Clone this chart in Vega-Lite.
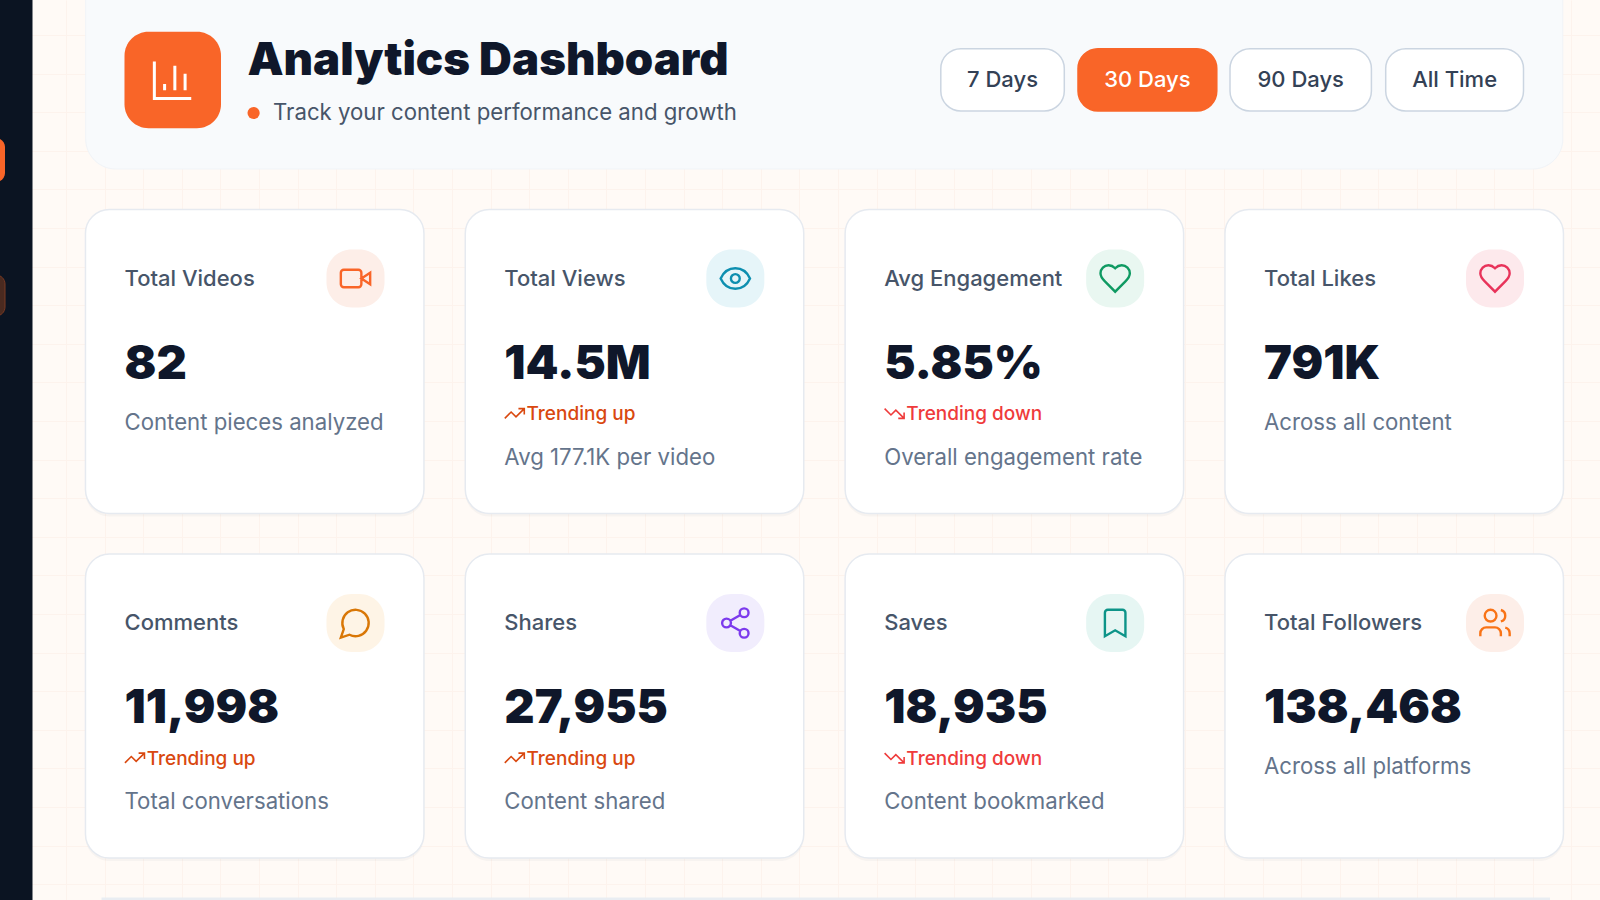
{
  "$schema": "https://vega.github.io/schema/vega-lite/v6.json",
  "width": 1600,
  "height": 900,
  "autosize": {"type": "fit", "contains": "padding"},
  "padding": 0,
  "background": "#fffaf6",
  "config": {"view": {"stroke": null}},
  "datasets": {
    "backdrop": [{"gx": 1, "gy": 1}],
    "frame": [
      {"part": "sidebar", "x": 2, "x2": 4, "y": 2, "y2": 18},
      {"part": "marker", "x": 1, "x2": 3, "y": 12, "y2": 14},
      {"part": "marker dim", "x": 1, "x2": 3, "y": 15, "y2": 16},
      {"part": "header", "x": 5, "x2": 26, "y": 1, "y2": 13},
      {"part": "next panel", "x": 6, "x2": 25, "y": 17, "y2": 19},
      {"part": "logo", "x": 7, "x2": 9, "y": 3, "y2": 11}
    ],
    "buttons": [
      {"label": "7 Days", "x": 13, "xm": 14, "x2": 15, "y": 4, "y2": 8, "yt": 7, "state": "idle"},
      {"label": "30 Days", "x": 16, "xm": 17, "x2": 18, "y": 4, "y2": 8, "yt": 7, "state": "active"},
      {"label": "90 Days", "x": 19, "xm": 20, "x2": 21, "y": 4, "y2": 8, "yt": 7, "state": "idle"},
      {"label": "All Time", "x": 22, "xm": 23, "x2": 24, "y": 4, "y2": 8, "yt": 7, "state": "idle"}
    ],
    "heading": [
      {"title": "Analytics Dashboard", "subtitle": "Track your content performance and growth", "xt": 10, "xd": 11, "xs": 12, "xl": 8, "yt": 5, "yl": 6, "yd": 9, "ys": 10}
    ],
    "cards": [
      {"metric": "Total Videos", "col": 1, "row": 1, "value": "82", "trend": null, "note": "Content pieces analyzed"},
      {"metric": "Total Views", "col": 2, "row": 1, "value": "14.5M", "trend": "Trending up", "note": "Avg 177.1K per video"},
      {"metric": "Avg Engagement", "col": 3, "row": 1, "value": "5.85%", "trend": "Trending down", "note": "Overall engagement rate"},
      {"metric": "Total Likes", "col": 4, "row": 1, "value": "791K", "trend": null, "note": "Across all content"},
      {"metric": "Comments", "col": 1, "row": 2, "value": "11,998", "trend": "Trending up", "note": "Total conversations"},
      {"metric": "Shares", "col": 2, "row": 2, "value": "27,955", "trend": "Trending up", "note": "Content shared"},
      {"metric": "Saves", "col": 3, "row": 2, "value": "18,935", "trend": "Trending down", "note": "Content bookmarked"},
      {"metric": "Total Followers", "col": 4, "row": 2, "value": "138,468", "trend": null, "note": "Across all platforms"}
    ]
  },
  "resolve": {
    "scale": {"x": "independent", "y": "independent", "fill": "independent", "stroke": "independent", "shape": "independent"},
    "axis": {"x": "independent", "y": "independent"}
  },
  "layer": [
    {
      "data": {"name": "backdrop"},
      "mark": {"type": "point", "opacity": 0},
      "encoding": {
        "x": {
          "field": "gx", "type": "quantitative",
          "scale": {"domain": [0.29, 41.74], "nice": false, "zero": false},
          "axis": {"values": [1,2,3,4,5,6,7,8,9,10,11,12,13,14,15,16,17,18,19,20,21,22,23,24,25,26,27,28,29,30,31,32,33,34,35,36,37,38,39,40,41], "grid": true, "gridColor": "#fdf3ed", "gridWidth": 1, "labels": false, "ticks": false, "domain": false, "title": null}
        },
        "y": {
          "field": "gy", "type": "quantitative",
          "scale": {"domain": [23.409, 0.093], "nice": false, "zero": false},
          "axis": {"values": [1,2,3,4,5,6,7,8,9,10,11,12,13,14,15,16,17,18,19,20,21,22,23], "grid": true, "gridColor": "#fdf3ed", "gridWidth": 1, "labels": false, "ticks": false, "domain": false, "title": null}
        }
      }
    },
    {
      "encoding": {
        "x": {"field": "x", "type": "quantitative", "axis": null, "scale": {"zero": false, "nice": false, "domain": [1,2,3,4,5,6,7,8,9,10,11,12,13,14,15,16,17,18,19,20,21,22,23,24,25,26,27], "range": [-30,0,5,32.5,85.7,101.5,124.5,172.8,221,247.4,253.6,273,940.8,1002.5,1064.3,1078,1147.4,1216.8,1230,1300.7,1371.4,1385.7,1454.6,1523.5,1550,1562.8,1600]}},
        "y": {"field": "y", "type": "quantitative", "axis": null, "scale": {"zero": false, "nice": false, "domain": [1,2,3,4,5,6,7,8,9,10,11,12,13,14,15,16,17,18,19], "range": [-40,0,31.7,48.7,75,80,87,111,113,120.2,128.3,138,169,182,275,316,897.5,900,915]}}
      },
      "layer": [
        {
          "data": {"name": "frame"},
          "transform": [{"filter": "datum.part == 'sidebar'"}],
          "mark": {"type": "rect", "fill": "#0b1422", "clip": true},
          "encoding": {"x2": {"field": "x2"}, "y2": {"field": "y2"}}
        },
        {
          "data": {"name": "frame"},
          "transform": [{"filter": "datum.part == 'marker'"}],
          "mark": {"type": "rect", "fill": "#f96528", "cornerRadius": 9, "clip": true},
          "encoding": {"x2": {"field": "x2"}, "y2": {"field": "y2"}}
        },
        {
          "data": {"name": "frame"},
          "transform": [{"filter": "datum.part == 'marker dim'"}],
          "mark": {"type": "rect", "fill": "#4a2a20", "stroke": "#7a3a22", "cornerRadius": 9, "clip": true},
          "encoding": {"x2": {"field": "x2"}, "y2": {"field": "y2"}}
        },
        {
          "data": {"name": "frame"},
          "transform": [{"filter": "datum.part == 'header'"}],
          "mark": {"type": "rect", "fill": "#64748b", "opacity": 0.025, "cornerRadius": 30, "yOffset": 12, "clip": true},
          "encoding": {"x2": {"field": "x2"}, "y2": {"field": "y2"}}
        },
        {
          "data": {"name": "frame"},
          "transform": [{"filter": "datum.part == 'header'"}],
          "mark": {"type": "rect", "fill": "#64748b", "opacity": 0.03, "cornerRadius": 30, "yOffset": 5, "clip": true},
          "encoding": {"x2": {"field": "x2"}, "y2": {"field": "y2"}}
        },
        {
          "data": {"name": "frame"},
          "transform": [{"filter": "datum.part == 'header'"}],
          "mark": {"type": "rect", "fill": "#f8fafc", "stroke": "#f1f4f8", "cornerRadius": 30, "clip": true},
          "encoding": {"x2": {"field": "x2"}, "y2": {"field": "y2"}}
        },
        {
          "data": {"name": "frame"},
          "transform": [{"filter": "datum.part == 'next panel'"}],
          "mark": {"type": "rect", "fill": "#e9edf2", "clip": true},
          "encoding": {"x2": {"field": "x2"}, "y2": {"field": "y2"}}
        },
        {
          "data": {"name": "frame"},
          "transform": [{"filter": "datum.part == 'logo'"}],
          "mark": {"type": "rect", "fill": "#94a3b8", "opacity": 0.12, "cornerRadius": 26, "yOffset": 7},
          "encoding": {"x2": {"field": "x2"}, "y2": {"field": "y2"}}
        },
        {
          "data": {"name": "frame"},
          "transform": [{"filter": "datum.part == 'logo'"}],
          "mark": {"type": "rect", "fill": "#f96528", "cornerRadius": 24},
          "encoding": {"x2": {"field": "x2"}, "y2": {"field": "y2"}}
        },
        {
          "data": {"name": "heading"},
          "mark": {"type": "point", "filled": false, "opacity": 1, "stroke": "#ffffff", "strokeWidth": 3, "size": 16.8, "shape": "M-9-9V9H9M6 5V-3M1 5V-7M-4 5V2"},
          "encoding": {"x": {"field": "xl"}, "y": {"field": "yl"}}
        },
        {
          "data": {"name": "heading"},
          "mark": {"type": "text", "align": "left", "baseline": "alphabetic", "font": "Inter", "fontWeight": 900, "fontSize": 45.5, "fill": "#0f172a"},
          "encoding": {"x": {"field": "xt"}, "y": {"field": "yt"}, "text": {"field": "title"}}
        },
        {
          "data": {"name": "heading"},
          "mark": {"type": "point", "filled": true, "opacity": 1, "fill": "#f96528", "size": 150},
          "encoding": {"x": {"field": "xd"}, "y": {"field": "yd"}}
        },
        {
          "data": {"name": "heading"},
          "mark": {"type": "text", "align": "left", "baseline": "alphabetic", "font": "Inter", "fontSize": 22.2, "fill": "#475569"},
          "encoding": {"x": {"field": "xs"}, "y": {"field": "ys"}, "text": {"field": "subtitle"}}
        },
        {
          "data": {"name": "buttons"},
          "mark": {"type": "rect", "cornerRadius": 20, "strokeWidth": 1.5},
          "encoding": {
            "x2": {"field": "x2"},
            "y2": {"field": "y2"},
            "fill": {"field": "state", "scale": {"domain": ["idle", "active"], "range": ["#ffffff", "#f96528"]}, "legend": null},
            "stroke": {"field": "state", "scale": {"domain": ["idle", "active"], "range": ["#cbd5e1", "#f96528"]}, "legend": null}
          }
        },
        {
          "data": {"name": "buttons"},
          "mark": {"type": "text", "align": "center", "baseline": "alphabetic", "font": "Inter", "fontSize": 22, "fontWeight": 500},
          "encoding": {
            "x": {"field": "xm"},
            "y": {"field": "yt"},
            "text": {"field": "label"},
            "fill": {"field": "state", "scale": {"domain": ["idle", "active"], "range": ["#334155", "#ffffff"]}, "legend": null}
          }
        }
      ],
      "resolve": {"scale": {"fill": "independent", "stroke": "independent"}}
    },
    {
      "data": {"name": "cards"},
      "encoding": {
        "x": {"field": "col", "type": "ordinal", "axis": null, "scale": {"type": "point", "domain": [1, 2, 3, 4], "range": [254.7, 1394.2], "padding": 0}},
        "y": {"field": "row", "type": "ordinal", "axis": null, "scale": {"type": "point", "domain": [1, 2], "range": [361.5, 706], "padding": 0}}
      },
      "layer": [
        {
          "mark": {"type": "rect", "width": 338.5, "height": 304, "cornerRadius": 24, "fill": "#64748b", "opacity": 0.05, "yOffset": 3}
        },
        {
          "mark": {"type": "rect", "width": 338.5, "height": 304, "cornerRadius": 24, "fill": "#ffffff", "stroke": "#e6eaf0", "strokeWidth": 1.5}
        },
        {
          "mark": {"type": "rect", "width": 58, "height": 58, "cornerRadius": 25, "xOffset": 100.8, "yOffset": -83},
          "encoding": {
            "fill": {
              "field": "metric",
              "legend": null,
              "scale": {
                "domain": ["Total Videos", "Total Views", "Avg Engagement", "Total Likes", "Comments", "Shares", "Saves", "Total Followers"],
                "range": ["#fdeee8", "#e6f5f9", "#e9f7f1", "#fde9ec", "#fef4e6", "#f1edfd", "#e6f6f3", "#fdeee8"]
              }
            }
          }
        },
        {
          "mark": {"type": "point", "filled": false, "opacity": 1, "strokeWidth": 2.4, "size": 8.6, "xOffset": 100.8, "yOffset": -83},
          "encoding": {
            "stroke": {
              "field": "metric",
              "legend": null,
              "scale": {
                "domain": ["Total Videos", "Total Views", "Avg Engagement", "Total Likes", "Comments", "Shares", "Saves", "Total Followers"],
                "range": ["#f96528", "#0e8fb0", "#0f9a62", "#e8335a", "#d97706", "#7c3aed", "#0d9488", "#f97316"]
              }
            },
            "shape": {
              "field": "metric",
              "legend": null,
              "scale": {
                "domain": ["Total Videos", "Total Views", "Avg Engagement", "Total Likes", "Comments", "Shares", "Saves", "Total Followers"],
                "range": [
                  "M10-4L4 0L10 4V-4ZM-8-6H2a2 2 0 0 1 2 2V4a2 2 0 0 1-2 2H-8a2 2 0 0 1-2-2V-4a2 2 0 0 1 2-2Z",
                  "M-10 0C-8-4.5-4.5-7 0-7C4.5-7 8-4.5 10 0C8 4.5 4.5 7 0 7C-4.5 7-8 4.5-10 0ZM3 0a3 3 0 1 1-6 0a3 3 0 1 1 6 0Z",
                  "M7 2c1.49-1.46 3-3.21 3-5.5A5.5 5.5 0 0 0 4.5-9c-1.76 0-3 .5-4.5 2-1.5-1.5-2.74-2-4.5-2A5.5 5.5 0 0 0-10-3.5c0 2.3 1.5 4.05 3 5.5l7 7Z",
                  "M7 2c1.49-1.46 3-3.21 3-5.5A5.5 5.5 0 0 0 4.5-9c-1.76 0-3 .5-4.5 2-1.5-1.5-2.74-2-4.5-2A5.5 5.5 0 0 0-10-3.5c0 2.3 1.5 4.05 3 5.5l7 7Z",
                  "M-4.1 8A9 9 0 1 0-8 4.1L-10 10Z",
                  "M9-7a3 3 0 1 1-6 0a3 3 0 1 1 6 0ZM-3 0a3 3 0 1 1-6 0a3 3 0 1 1 6 0ZM9 7a3 3 0 1 1-6 0a3 3 0 1 1 6 0ZM-3.41 1.51L3.42 5.49M3.41-5.49L-3.41-1.51",
                  "M7 9L0 5L-7 9V-7a2 2 0 0 1 2-2h10a2 2 0 0 1 2 2V9Z",
                  "M4 9V7a4 4 0 0 0-4-4H-6a4 4 0 0 0-4 4V9M4-8.87a4 4 0 0 1 0 7.74M10 9V7a4 4 0 0 0-3-3.87M1-5a4 4 0 1 1-8 0a4 4 0 1 1 8 0Z"
                ]
              }
            }
          }
        },
        {
          "mark": {"type": "text", "align": "left", "baseline": "alphabetic", "font": "Inter", "fontSize": 22, "fontWeight": 500, "fill": "#475569", "dx": -130.2, "dy": -76},
          "encoding": {"text": {"field": "metric"}}
        },
        {
          "mark": {"type": "text", "align": "left", "baseline": "alphabetic", "font": "Inter", "fontSize": 47, "fontWeight": 900, "fill": "#0f172a", "dx": -130.2, "dy": 17},
          "encoding": {"text": {"field": "value"}}
        },
        {
          "transform": [{"filter": "datum.trend"}],
          "mark": {"type": "point", "filled": false, "opacity": 1, "strokeWidth": 1.6, "size": 3.8, "xOffset": -120, "yOffset": 52},
          "encoding": {
            "stroke": {"field": "trend", "legend": null, "scale": {"domain": ["Trending up", "Trending down"], "range": ["#d9480f", "#ef3b3b"]}},
            "shape": {"field": "trend", "legend": null, "scale": {"domain": ["Trending up", "Trending down"], "range": ["M10-5L1.5 3.5L-3.5-1.5L-10 5M4-5H10V1", "M10 5L1.5-3.5L-3.5 1.5L-10-5M4 5H10V-1"]}}
          }
        },
        {
          "transform": [{"filter": "datum.trend"}],
          "mark": {"type": "text", "align": "left", "baseline": "alphabetic", "font": "Inter", "fontSize": 19, "fontWeight": 500, "dx": -108, "dy": 58.5},
          "encoding": {
            "text": {"field": "trend"},
            "fill": {"field": "trend", "legend": null, "scale": {"domain": ["Trending up", "Trending down"], "range": ["#d9480f", "#ef3b3b"]}}
          }
        },
        {
          "transform": [{"filter": "datum.trend"}],
          "mark": {"type": "text", "align": "left", "baseline": "alphabetic", "font": "Inter", "fontSize": 22.2, "fill": "#64748b", "dx": -130.2, "dy": 103},
          "encoding": {"text": {"field": "note"}}
        },
        {
          "transform": [{"filter": "!datum.trend"}],
          "mark": {"type": "text", "align": "left", "baseline": "alphabetic", "font": "Inter", "fontSize": 22.2, "fill": "#64748b", "dx": -130.2, "dy": 68},
          "encoding": {"text": {"field": "note"}}
        }
      ],
      "resolve": {"scale": {"fill": "independent", "stroke": "independent", "shape": "independent"}}
    }
  ]
}
